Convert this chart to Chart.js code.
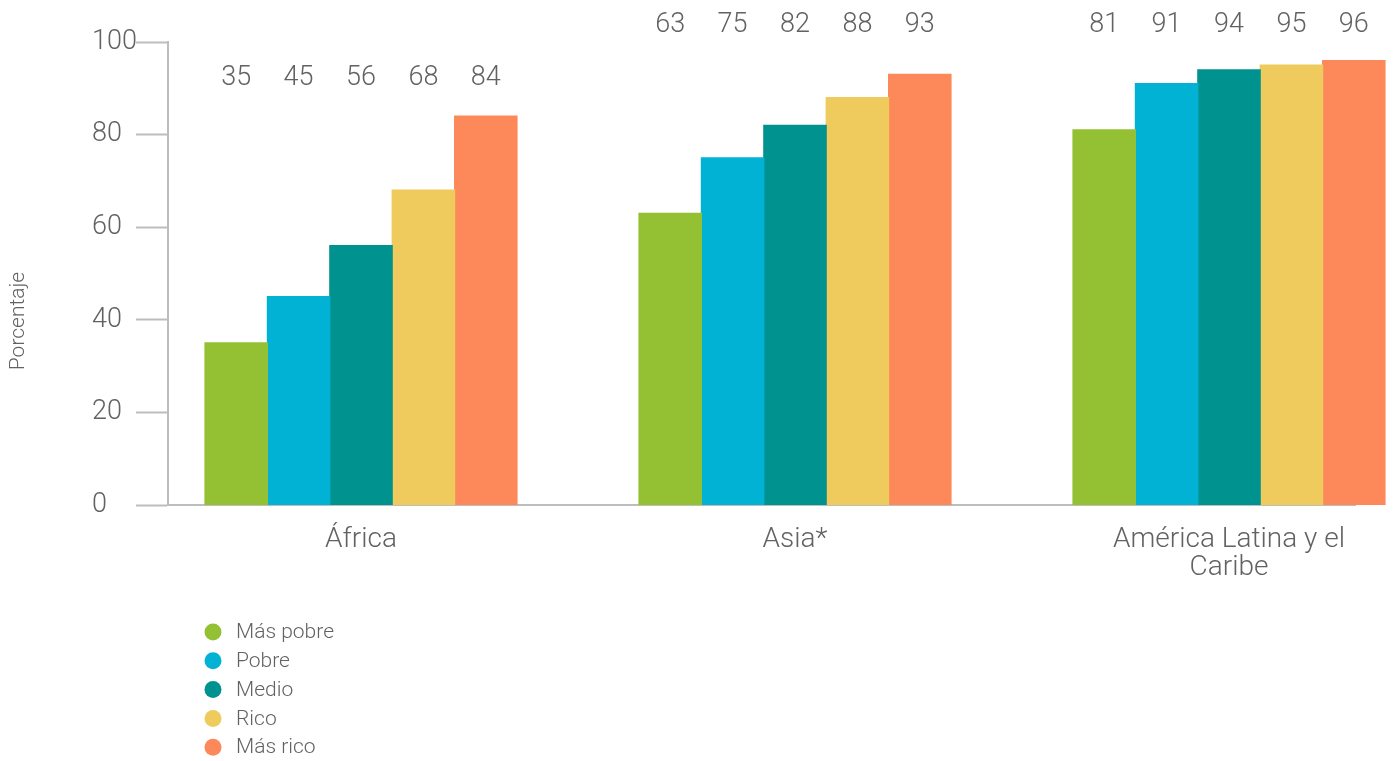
<!DOCTYPE html>
<html>
<head>
<meta charset="utf-8">
<title>Porcentaje por quintil de riqueza</title>
<script src="https://cdn.jsdelivr.net/npm/chart.js@4"></script>
<style>
  html, body { margin: 0; padding: 0; background: #fff; }
  #wrap { width: 1395px; height: 761px; position: relative; }
</style>
</head>
<body>
<div id="wrap"><canvas id="chart"></canvas></div>
<script>
const regions = ["África", "Asia*", ["América Latina y el", "Caribe"]];
const quintiles = ["Más pobre", "Pobre", "Medio", "Rico", "Más rico"];
const masPobre = [35, 63, 81];
const pobre = [45, 75, 91];
const medio = [56, 82, 94];
const rico = [68, 88, 95];
const masRico = [84, 93, 96];
const yTicks = [0, 20, 40, 60, 80, 100];

const colors = ["#93C133", "#02B2D5", "#00928F", "#EFCB5E", "#FD895A"];
const series = [masPobre, pobre, medio, rico, masRico];
const textColor = "#626262";
const lineColor = "#BDBDBD";
const fontFamily = "Roboto, 'DejaVu Sans', sans-serif";

// x is linear so the group centres can sit wherever the plot needs them
const plotLeft = 168, plotRight = 1355, groupStep = 434, firstCentre = 361;
const xMin = -(firstCentre - plotLeft) / groupStep;
const xMax = xMin + (plotRight - plotLeft) / groupStep;

// numbers above each group of bars
const valueLabels = {
  id: "valueLabels",
  afterDatasetsDraw(chart) {
    const ctx = chart.ctx;
    ctx.save();
    ctx.font = "300 27px " + fontFamily;
    ctx.fillStyle = textColor;
    ctx.textAlign = "center";
    ctx.textBaseline = "middle";
    regions.forEach((r, j) => {
      let top = Infinity;
      chart.data.datasets.forEach((ds, i) => {
        top = Math.min(top, chart.getDatasetMeta(i).data[j].y);
      });
      let y = top - 38;
      if (y < 42) y = 25;
      chart.data.datasets.forEach((ds, i) => {
        const bar = chart.getDatasetMeta(i).data[j];
        ctx.fillText(String(ds.data[j].y), bar.x, y);
      });
    });
    ctx.restore();
  }
};

// vertical legend under the plot plus the rotated axis title
const sideText = {
  id: "sideText",
  afterDraw(chart) {
    const ctx = chart.ctx;
    ctx.save();
    ctx.font = "300 21px " + fontFamily;
    ctx.textBaseline = "middle";
    ctx.textAlign = "left";
    chart.data.datasets.forEach((ds, i) => {
      const y = 632 + i * 28.8;
      ctx.fillStyle = ds.backgroundColor;
      ctx.beginPath();
      ctx.arc(213, y, 8.5, 0, Math.PI * 2);
      ctx.fill();
      ctx.fillStyle = textColor;
      ctx.fillText(ds.label, 236, y + 1);
    });

    ctx.translate(19, 321);
    ctx.rotate(-Math.PI / 2);
    ctx.textAlign = "center";
    ctx.font = "300 21px " + fontFamily;
    ctx.fillText("Porcentaje", 0, 0);
    ctx.restore();
  }
};

new Chart(document.getElementById("chart"), {
  type: "bar",
  data: {
    datasets: quintiles.map((q, i) => ({
      label: q,
      data: series[i].map((v, j) => ({ x: j, y: v })),
      backgroundColor: colors[i],
      borderWidth: 0,
      inflateAmount: 0.6,
      categoryPercentage: 312 / groupStep,
      barPercentage: 1,
      clip: false
    }))
  },
  options: {
    responsive: true,
    maintainAspectRatio: false,
    animation: false,
    layout: { padding: { left: 92, right: 1395 - plotRight, top: 42, bottom: 156 } },
    plugins: { legend: { display: false }, tooltip: { enabled: false } },
    scales: {
      x: {
        type: "linear",
        min: xMin,
        max: xMax,
        offset: false,
        bounds: "data",
        afterBuildTicks(scale) {
          scale.ticks = regions.map((r, i) => ({ value: i }));
        },
        afterFit(scale) { scale.height = 100; },
        grid: { display: false, drawTicks: false, offset: false },
        border: { color: lineColor, width: 2 },
        ticks: {
          padding: 21,
          color: textColor,
          font: { family: fontFamily, size: 28, weight: "300", lineHeight: 1.0 },
          maxRotation: 0,
          autoSkip: false,
          callback: (v) => regions[v]
        }
      },
      y: {
        min: 0,
        max: 100,
        afterBuildTicks(scale) {
          scale.ticks = yTicks.map((v) => ({ value: v }));
        },
        afterFit(scale) { scale.width = plotLeft - 92; },
        grid: {
          drawOnChartArea: false,
          drawTicks: true,
          tickLength: 32,
          tickWidth: 2,
          color: lineColor
        },
        border: { color: lineColor, width: 2 },
        ticks: {
          crossAlign: "far",
          color: textColor,
          font: { family: fontFamily, size: 27, weight: "300" }
        }
      }
    }
  },
  plugins: [valueLabels, sideText]
});
</script>
</body>
</html>
